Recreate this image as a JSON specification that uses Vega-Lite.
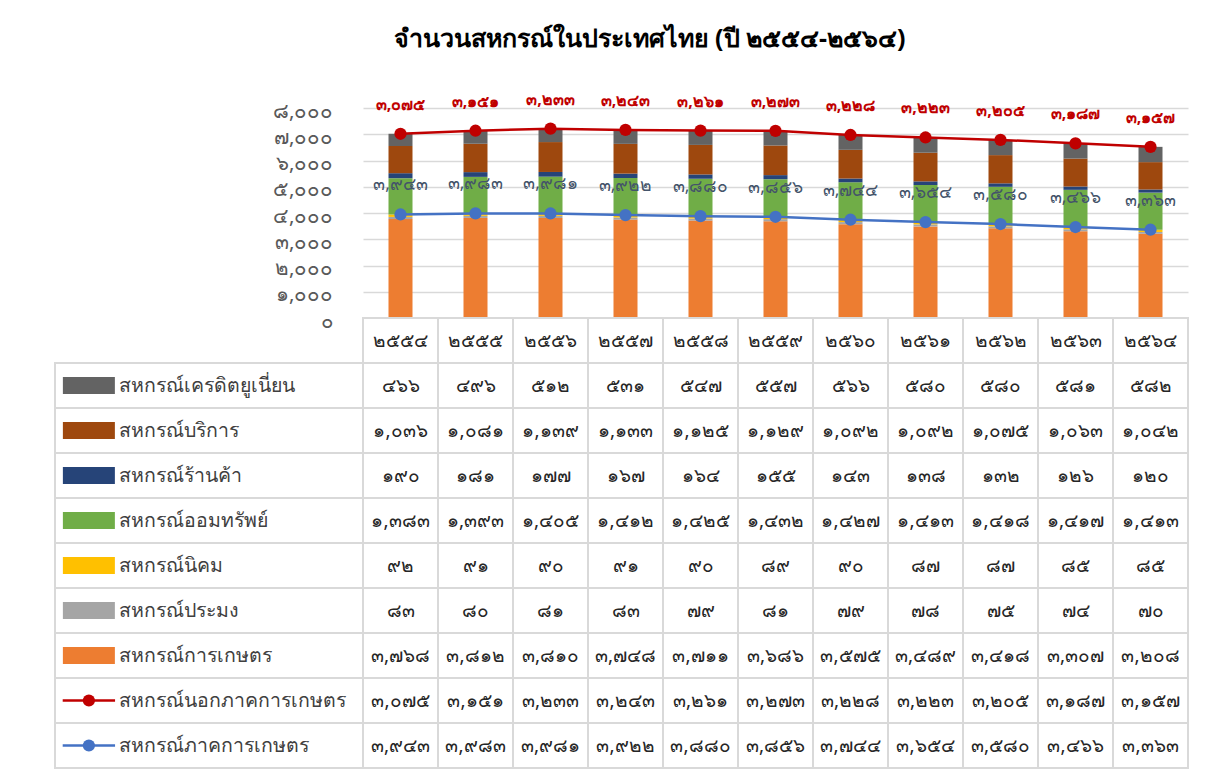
{
  "$schema": "https://vega.github.io/schema/vega-lite/v6.json",
  "padding": {"left": 54, "top": 26, "right": 10, "bottom": 4},
  "background": "white",
  "title": {
    "text": "จำนวนสหกรณ์ในประเทศไทย (ปี ๒๕๕๔-๒๕๖๔)",
    "fontSize": 25,
    "fontWeight": "bold",
    "color": "#000000",
    "font": "Noto Sans",
    "anchor": "middle",
    "dx": 28,
    "offset": 40
  },
  "datasets": {
    "coops": [
      {"year": 2554, "สหกรณ์เครดิตยูเนี่ยน": 466, "สหกรณ์บริการ": 1036, "สหกรณ์ร้านค้า": 190, "สหกรณ์ออมทรัพย์": 1383, "สหกรณ์นิคม": 92, "สหกรณ์ประมง": 83, "สหกรณ์การเกษตร": 3768, "สหกรณ์นอกภาคการเกษตร": 3075, "สหกรณ์ภาคการเกษตร": 3943},
      {"year": 2555, "สหกรณ์เครดิตยูเนี่ยน": 496, "สหกรณ์บริการ": 1081, "สหกรณ์ร้านค้า": 181, "สหกรณ์ออมทรัพย์": 1393, "สหกรณ์นิคม": 91, "สหกรณ์ประมง": 80, "สหกรณ์การเกษตร": 3812, "สหกรณ์นอกภาคการเกษตร": 3151, "สหกรณ์ภาคการเกษตร": 3983},
      {"year": 2556, "สหกรณ์เครดิตยูเนี่ยน": 512, "สหกรณ์บริการ": 1139, "สหกรณ์ร้านค้า": 177, "สหกรณ์ออมทรัพย์": 1405, "สหกรณ์นิคม": 90, "สหกรณ์ประมง": 81, "สหกรณ์การเกษตร": 3810, "สหกรณ์นอกภาคการเกษตร": 3233, "สหกรณ์ภาคการเกษตร": 3981},
      {"year": 2557, "สหกรณ์เครดิตยูเนี่ยน": 531, "สหกรณ์บริการ": 1133, "สหกรณ์ร้านค้า": 167, "สหกรณ์ออมทรัพย์": 1412, "สหกรณ์นิคม": 91, "สหกรณ์ประมง": 83, "สหกรณ์การเกษตร": 3748, "สหกรณ์นอกภาคการเกษตร": 3243, "สหกรณ์ภาคการเกษตร": 3922},
      {"year": 2558, "สหกรณ์เครดิตยูเนี่ยน": 547, "สหกรณ์บริการ": 1125, "สหกรณ์ร้านค้า": 164, "สหกรณ์ออมทรัพย์": 1425, "สหกรณ์นิคม": 90, "สหกรณ์ประมง": 79, "สหกรณ์การเกษตร": 3711, "สหกรณ์นอกภาคการเกษตร": 3261, "สหกรณ์ภาคการเกษตร": 3880},
      {"year": 2559, "สหกรณ์เครดิตยูเนี่ยน": 557, "สหกรณ์บริการ": 1129, "สหกรณ์ร้านค้า": 155, "สหกรณ์ออมทรัพย์": 1432, "สหกรณ์นิคม": 89, "สหกรณ์ประมง": 81, "สหกรณ์การเกษตร": 3686, "สหกรณ์นอกภาคการเกษตร": 3273, "สหกรณ์ภาคการเกษตร": 3856},
      {"year": 2560, "สหกรณ์เครดิตยูเนี่ยน": 566, "สหกรณ์บริการ": 1092, "สหกรณ์ร้านค้า": 143, "สหกรณ์ออมทรัพย์": 1427, "สหกรณ์นิคม": 90, "สหกรณ์ประมง": 79, "สหกรณ์การเกษตร": 3575, "สหกรณ์นอกภาคการเกษตร": 3228, "สหกรณ์ภาคการเกษตร": 3744},
      {"year": 2561, "สหกรณ์เครดิตยูเนี่ยน": 580, "สหกรณ์บริการ": 1092, "สหกรณ์ร้านค้า": 138, "สหกรณ์ออมทรัพย์": 1413, "สหกรณ์นิคม": 87, "สหกรณ์ประมง": 78, "สหกรณ์การเกษตร": 3489, "สหกรณ์นอกภาคการเกษตร": 3223, "สหกรณ์ภาคการเกษตร": 3654},
      {"year": 2562, "สหกรณ์เครดิตยูเนี่ยน": 580, "สหกรณ์บริการ": 1075, "สหกรณ์ร้านค้า": 132, "สหกรณ์ออมทรัพย์": 1418, "สหกรณ์นิคม": 87, "สหกรณ์ประมง": 75, "สหกรณ์การเกษตร": 3418, "สหกรณ์นอกภาคการเกษตร": 3205, "สหกรณ์ภาคการเกษตร": 3580},
      {"year": 2563, "สหกรณ์เครดิตยูเนี่ยน": 581, "สหกรณ์บริการ": 1063, "สหกรณ์ร้านค้า": 126, "สหกรณ์ออมทรัพย์": 1417, "สหกรณ์นิคม": 85, "สหกรณ์ประมง": 74, "สหกรณ์การเกษตร": 3307, "สหกรณ์นอกภาคการเกษตร": 3187, "สหกรณ์ภาคการเกษตร": 3466},
      {"year": 2564, "สหกรณ์เครดิตยูเนี่ยน": 582, "สหกรณ์บริการ": 1042, "สหกรณ์ร้านค้า": 120, "สหกรณ์ออมทรัพย์": 1413, "สหกรณ์นิคม": 85, "สหกรณ์ประมง": 70, "สหกรณ์การเกษตร": 3208, "สหกรณ์นอกภาคการเกษตร": 3157, "สหกรณ์ภาคการเกษตร": 3363}
    ]
  },
  "data": {"name": "coops"},
  "columns": 2,
  "spacing": 0,
  "bounds": "flush",
  "resolve": {"scale": {"x": "independent", "y": "independent", "color": "independent"}},
  "concat": [
    {
      "width": 308,
      "height": 210,
      "data": {"values": []},
      "mark": "rect",
      "encoding": {}
    },
    {
      "width": 825,
      "height": 210,
      "transform": [
        {"fold": ["สหกรณ์การเกษตร", "สหกรณ์ประมง", "สหกรณ์นิคม", "สหกรณ์ออมทรัพย์", "สหกรณ์ร้านค้า", "สหกรณ์บริการ", "สหกรณ์เครดิตยูเนี่ยน", "สหกรณ์ภาคการเกษตร", "สหกรณ์นอกภาคการเกษตร"], "as": ["series", "value"]}
      ],
      "encoding": {
        "x": {"field": "year", "type": "ordinal", "axis": null, "scale": {"paddingInner": 0.68, "paddingOuter": 0.34}},
        "y": {
          "field": "v1", "type": "quantitative",
          "scale": {"domain": [0, 8000]},
          "axis": {
            "title": null, "values": [0, 1000, 2000, 3000, 4000, 5000, 6000, 7000, 8000], "tickCount": 12,
            "format": ",d", "domain": false, "ticks": false, "tickSize": 0, "labelOverlap": false,
            "labelPadding": 30, "labelFontSize": 20.5, "labelColor": "#595959", "labelFont": "Noto Sans",
            "labelOffset": 3,
            "gridColor": "#d9d9d9", "gridWidth": 1.5
          }
        }
      },
      "layer": [
        {
          "transform": [
            {"filter": {"field": "series", "oneOf": ["สหกรณ์การเกษตร", "สหกรณ์ประมง", "สหกรณ์นิคม", "สหกรณ์ออมทรัพย์", "สหกรณ์ร้านค้า", "สหกรณ์บริการ", "สหกรณ์เครดิตยูเนี่ยน"]}},
            {"stack": "value", "groupby": ["year"], "as": ["v0", "v1"]}
          ],
          "mark": {"type": "bar"},
          "encoding": {
            "y2": {"field": "v0"},
            "color": {
              "field": "series", "type": "nominal", "legend": null,
              "scale": {
                "domain": ["สหกรณ์เครดิตยูเนี่ยน", "สหกรณ์บริการ", "สหกรณ์ร้านค้า", "สหกรณ์ออมทรัพย์", "สหกรณ์นิคม", "สหกรณ์ประมง", "สหกรณ์การเกษตร"],
                "range": ["#636363", "#9e480e", "#264478", "#70ad47", "#ffc000", "#a5a5a5", "#ed7d31"]
              }
            }
          }
        },
        {
          "transform": [
            {"filter": {"field": "series", "oneOf": ["สหกรณ์ภาคการเกษตร", "สหกรณ์นอกภาคการเกษตร"]}},
            {"stack": "value", "groupby": ["year"], "as": ["v0", "v1"]},
            {"filter": {"field": "series", "equal": "สหกรณ์ภาคการเกษตร"}}
          ],
          "layer": [
            {"mark": {"type": "line", "color": "#4472c4", "strokeWidth": 2.5, "point": {"filled": true, "size": 150, "color": "#4472c4"}}},
            {"mark": {"type": "text", "dy": -29, "fontSize": 17.5, "color": "#44546a", "font": "Noto Sans"}, "encoding": {"text": {"field": "value", "type": "quantitative", "format": ","}}}
          ]
        },
        {
          "transform": [
            {"filter": {"field": "series", "oneOf": ["สหกรณ์ภาคการเกษตร", "สหกรณ์นอกภาคการเกษตร"]}},
            {"stack": "value", "groupby": ["year"], "as": ["v0", "v1"]},
            {"filter": {"field": "series", "equal": "สหกรณ์นอกภาคการเกษตร"}}
          ],
          "layer": [
            {"mark": {"type": "line", "color": "#c00000", "strokeWidth": 2.5, "point": {"filled": true, "size": 150, "color": "#c00000"}}},
            {"mark": {"type": "text", "dy": -29, "fontSize": 16, "fontWeight": "bold", "color": "#c00000", "font": "Noto Sans"}, "encoding": {"text": {"field": "value", "type": "quantitative", "format": ","}}}
          ]
        }
      ]
    },
    {
      "width": 308,
      "height": 450,
      "transform": [
        {"fold": ["สหกรณ์การเกษตร", "สหกรณ์ประมง", "สหกรณ์นิคม", "สหกรณ์ออมทรัพย์", "สหกรณ์ร้านค้า", "สหกรณ์บริการ", "สหกรณ์เครดิตยูเนี่ยน", "สหกรณ์ภาคการเกษตร", "สหกรณ์นอกภาคการเกษตร"], "as": ["series", "value"]},
        {"aggregate": [{"op": "count", "as": "n"}], "groupby": ["series"]}
      ],
      "encoding": {
        "y": {
          "field": "series", "type": "nominal", "axis": null,
          "scale": {"domain": ["ปี", "สหกรณ์เครดิตยูเนี่ยน", "สหกรณ์บริการ", "สหกรณ์ร้านค้า", "สหกรณ์ออมทรัพย์", "สหกรณ์นิคม", "สหกรณ์ประมง", "สหกรณ์การเกษตร", "สหกรณ์นอกภาคการเกษตร", "สหกรณ์ภาคการเกษตร"], "paddingInner": 0, "paddingOuter": 0}
        }
      },
      "layer": [
        {"mark": {"type": "rect", "fill": "white", "stroke": "#d9d9d9", "strokeWidth": 2}},
        {
          "transform": [{"filter": {"field": "series", "oneOf": ["สหกรณ์การเกษตร", "สหกรณ์ประมง", "สหกรณ์นิคม", "สหกรณ์ออมทรัพย์", "สหกรณ์ร้านค้า", "สหกรณ์บริการ", "สหกรณ์เครดิตยูเนี่ยน"]}}],
          "mark": {"type": "point", "filled": true, "opacity": 1, "shape": "M-1,-0.33H1V0.33H-1Z", "size": 2704},
          "encoding": {
            "x": {"datum": 0.11, "type": "quantitative", "scale": {"domain": [0, 1]}, "axis": null},
            "color": {
              "field": "series", "type": "nominal", "legend": null,
              "scale": {
                "domain": ["สหกรณ์เครดิตยูเนี่ยน", "สหกรณ์บริการ", "สหกรณ์ร้านค้า", "สหกรณ์ออมทรัพย์", "สหกรณ์นิคม", "สหกรณ์ประมง", "สหกรณ์การเกษตร", "สหกรณ์นอกภาคการเกษตร", "สหกรณ์ภาคการเกษตร"],
                "range": ["#636363", "#9e480e", "#264478", "#70ad47", "#ffc000", "#a5a5a5", "#ed7d31", "#c00000", "#4472c4"]
              }
            }
          }
        },
        {
          "transform": [{"filter": {"field": "series", "oneOf": ["สหกรณ์นอกภาคการเกษตร", "สหกรณ์ภาคการเกษตร"]}}],
          "mark": {"type": "rule", "strokeWidth": 2.5},
          "encoding": {
            "x": {"datum": 0.025, "type": "quantitative"},
            "x2": {"datum": 0.195},
            "color": {"field": "series", "type": "nominal", "legend": null}
          }
        },
        {
          "transform": [{"filter": {"field": "series", "oneOf": ["สหกรณ์นอกภาคการเกษตร", "สหกรณ์ภาคการเกษตร"]}}],
          "mark": {"type": "point", "filled": true, "opacity": 1, "shape": "circle", "size": 150},
          "encoding": {
            "x": {"datum": 0.11, "type": "quantitative"},
            "color": {"field": "series", "type": "nominal", "legend": null}
          }
        },
        {
          "mark": {"type": "text", "align": "left", "fontSize": 19.5, "color": "#404040", "font": "Noto Sans"},
          "encoding": {
            "x": {"datum": 0.208, "type": "quantitative"},
            "text": {"field": "series"}
          }
        }
      ]
    },
    {
      "width": 825,
      "height": 450,
      "transform": [
        {"fold": ["สหกรณ์การเกษตร", "สหกรณ์ประมง", "สหกรณ์นิคม", "สหกรณ์ออมทรัพย์", "สหกรณ์ร้านค้า", "สหกรณ์บริการ", "สหกรณ์เครดิตยูเนี่ยน", "สหกรณ์ภาคการเกษตร", "สหกรณ์นอกภาคการเกษตร"], "as": ["series", "value"]}
      ],
      "encoding": {
        "x": {"field": "year", "type": "ordinal", "axis": null, "scale": {"paddingInner": 0, "paddingOuter": 0}},
        "y": {
          "field": "series", "type": "nominal", "axis": null,
          "scale": {"domain": ["ปี", "สหกรณ์เครดิตยูเนี่ยน", "สหกรณ์บริการ", "สหกรณ์ร้านค้า", "สหกรณ์ออมทรัพย์", "สหกรณ์นิคม", "สหกรณ์ประมง", "สหกรณ์การเกษตร", "สหกรณ์นอกภาคการเกษตร", "สหกรณ์ภาคการเกษตร"], "paddingInner": 0, "paddingOuter": 0}
        }
      },
      "layer": [
        {"mark": {"type": "rect", "fill": "white", "stroke": "#d9d9d9", "strokeWidth": 2}},
        {
          "mark": {"type": "text", "fontSize": 19, "color": "#262626", "font": "Noto Sans"},
          "encoding": {"text": {"field": "value", "type": "quantitative", "format": ","}}
        },
        {
          "transform": [{"aggregate": [{"op": "count", "as": "n"}], "groupby": ["year"]}],
          "encoding": {"y": {"datum": "ปี", "type": "nominal"}},
          "layer": [
            {"mark": {"type": "rect", "fill": "white", "stroke": "#d9d9d9", "strokeWidth": 2}},
            {
              "mark": {"type": "text", "fontSize": 19, "color": "#262626", "font": "Noto Sans"},
              "encoding": {"text": {"field": "year", "type": "quantitative", "format": "d"}}
            }
          ]
        }
      ]
    }
  ],
  "config": {
    "view": {"stroke": null},
    "locale": {
      "number": {
        "decimal": ".",
        "thousands": ",",
        "grouping": [3],
        "currency": ["฿", ""],
        "numerals": ["๐", "๑", "๒", "๓", "๔", "๕", "๖", "๗", "๘", "๙"]
      }
    }
  }
}
